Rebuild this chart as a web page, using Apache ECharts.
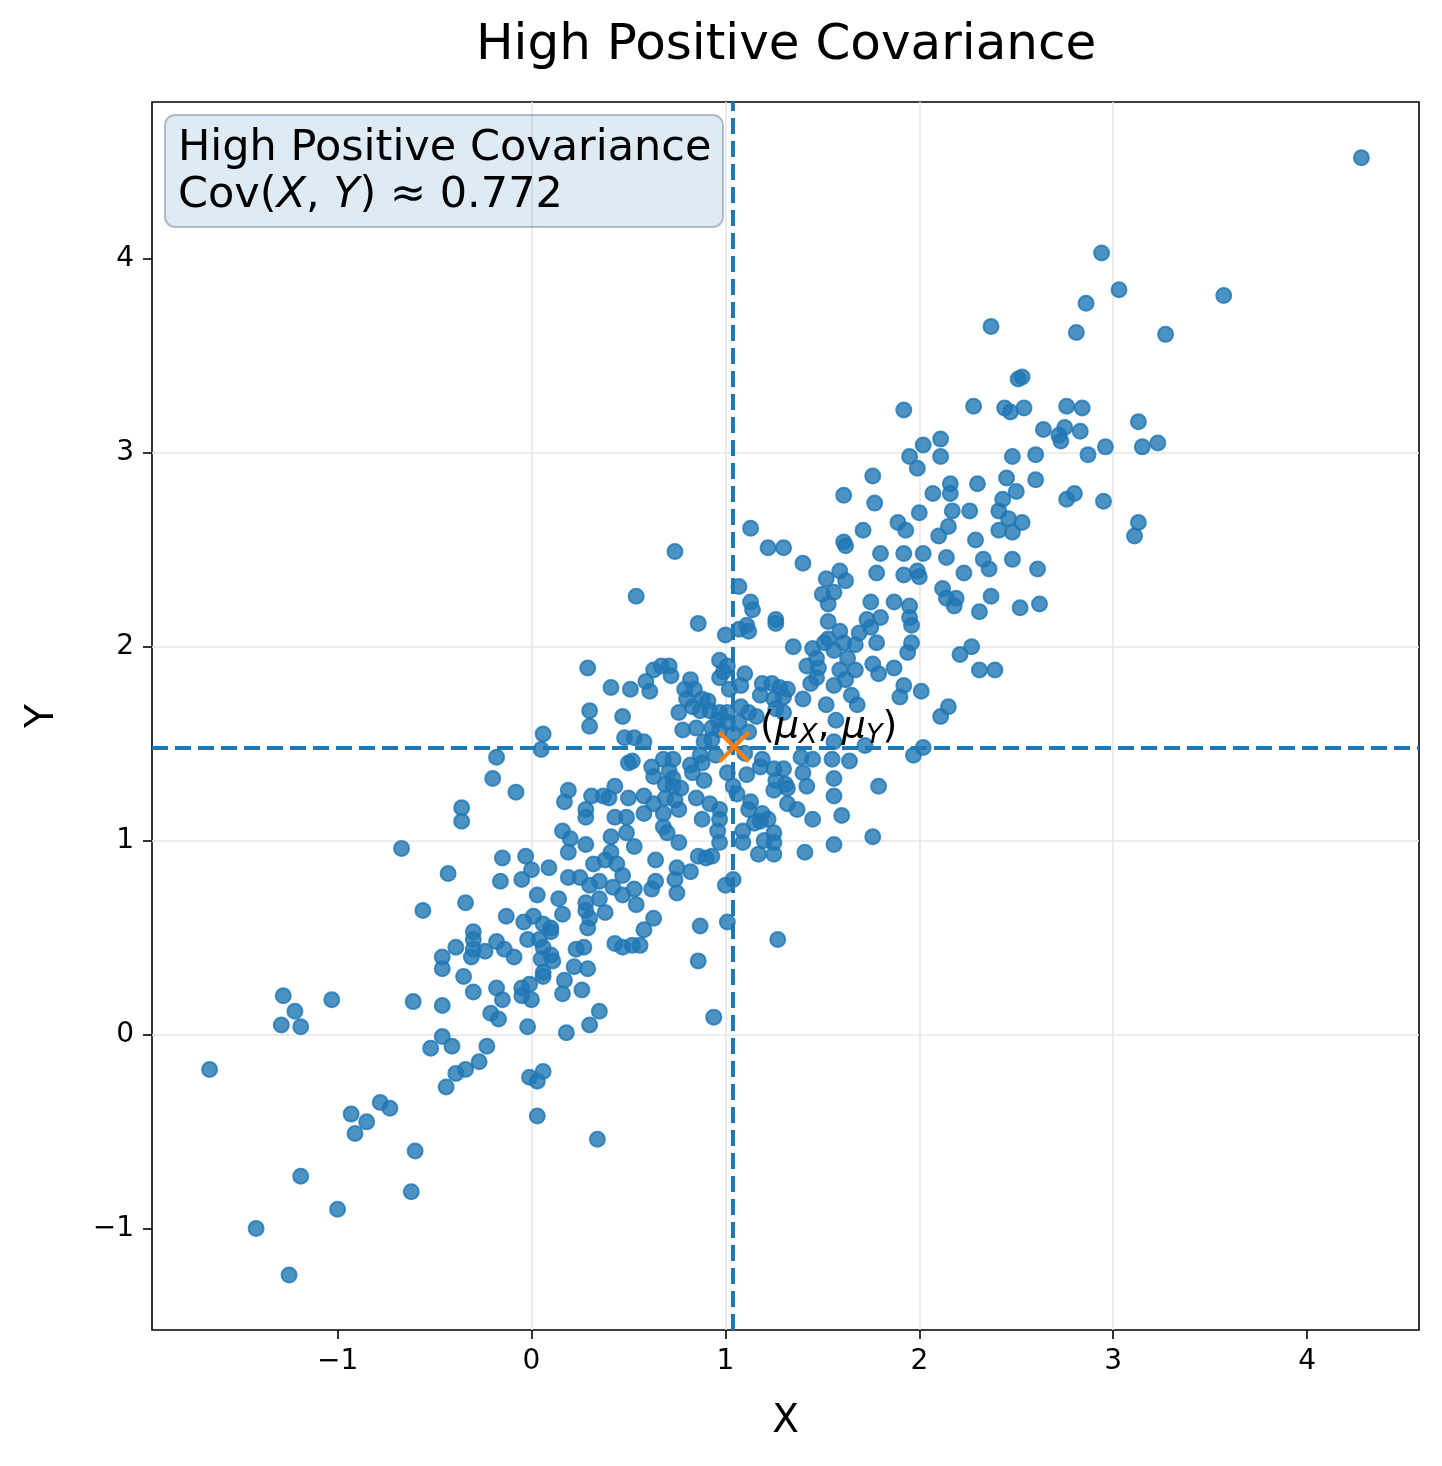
<!DOCTYPE html>
<html>
<head>
<meta charset="utf-8">
<title>High Positive Covariance</title>
<style>
  * { margin: 0; padding: 0; }
  body { background: #ffffff; }
  #chart { width: 1442px; height: 1466px; }
</style>
</head>
<body>
<div id="chart"></div>
<script src="https://cdn.jsdelivr.net/npm/echarts@6/dist/echarts.min.js"></script>
<script>
// sample points (x, y)
var samples = [
  [-1.28,0.20],[-1.22,0.12],[-1.29,0.05],[-1.19,0.04],[-1.03,0.18],[-1.66,-0.18],[-0.61,0.17],[-0.46,0.15],
  [-0.46,0.40],[-0.46,0.34],[-0.35,0.30],[-0.30,0.22],[-0.46,-0.01],[-0.41,-0.06],[-0.52,-0.07],[-0.39,-0.20],
  [-0.34,-0.18],[-0.44,-0.27],[-0.78,-0.35],[-0.73,-0.38],[-0.93,-0.41],[-0.85,-0.45],[-0.91,-0.51],[-0.60,-0.60],
  [-1.19,-0.73],[-0.62,-0.81],[-1.00,-0.90],[-1.42,-1.00],[-1.25,-1.24],

  [-0.67,0.96],[-0.43,0.83],[-0.15,0.91],[-0.03,0.92],[0.00,0.85],[-0.05,0.80],[-0.16,0.79],[0.09,0.86],
  [0.19,0.94],[0.20,1.01],[0.28,0.98],[0.19,0.81],[0.25,0.81],[0.30,0.77],[0.32,0.88],[0.38,0.90],
  [0.41,0.94],[0.44,0.88],[0.47,0.82],[0.35,0.79],[0.42,0.76],[0.47,0.72],[0.03,0.72],[0.14,0.70],
  [0.16,0.62],[-0.34,0.68],[-0.56,0.64],[-0.13,0.61],[-0.04,0.58],[0.01,0.61],[0.06,0.57],[0.10,0.55],
  [0.10,0.53],[0.28,0.68],[0.35,0.70],[0.38,0.63],[0.28,0.64],[0.30,0.60],[0.29,0.55],[-0.30,0.53],
  [-0.30,0.49],[-0.39,0.45],[-0.30,0.44],[-0.31,0.40],[-0.24,0.43],[-0.18,0.48],[-0.14,0.44],[-0.09,0.40],
  [-0.02,0.49],[0.04,0.49],[0.06,0.45],[0.05,0.39],[0.10,0.41],[0.11,0.38],[0.06,0.32],[0.06,0.30],
  [0.23,0.44],[0.27,0.45],[0.22,0.35],[0.29,0.34],[0.43,0.47],[0.47,0.45],[-0.18,0.24],[-0.15,0.18],
  [-0.05,0.24],[-0.05,0.20],[-0.01,0.26],[0.00,0.18],[0.17,0.28],[0.16,0.21],[0.26,0.23],[-0.21,0.11],
  [-0.17,0.08],[-0.02,0.04],[0.35,0.12],[0.30,0.05],[0.18,0.01],[-0.23,-0.06],[-0.27,-0.14],[-0.01,-0.22],
  [0.06,-0.19],[0.03,-0.24],[0.03,-0.42],[0.34,-0.54],

  [0.53,0.97],[0.64,0.90],[0.76,0.99],[0.53,0.75],[0.54,0.67],[0.62,0.75],[0.64,0.79],[0.75,0.86],
  [0.74,0.80],[0.75,0.73],[0.82,0.84],[0.86,0.92],[0.90,0.91],[0.93,0.92],[0.97,0.99],[1.00,0.77],
  [1.04,0.80],[0.63,0.60],[0.58,0.54],[0.87,0.56],[1.01,0.58],[0.52,0.46],[0.56,0.46],[0.86,0.38],
  [1.27,0.49],[0.94,0.09],[1.09,0.99],[1.17,0.93],[1.25,0.93],[1.25,0.99],[1.41,0.94],[1.56,0.98],
  [1.76,1.02],

  [0.29,1.89],[0.41,1.79],[0.51,1.78],[0.30,1.67],[0.30,1.59],[0.47,1.64],[0.48,1.53],[0.06,1.55],
  [0.05,1.47],[-0.18,1.43],[-0.20,1.32],[-0.08,1.25],[-0.36,1.17],[-0.36,1.10],[0.19,1.26],[0.17,1.20],
  [0.31,1.23],[0.37,1.23],[0.40,1.22],[0.43,1.28],[0.50,1.22],[0.28,1.16],[0.28,1.12],[0.43,1.12],
  [0.49,1.12],[0.50,1.40],[0.16,1.05],[0.41,1.02],[0.49,1.04],

  [1.35,2.00],[1.45,1.99],[1.51,2.02],[1.56,1.98],[1.47,1.94],[1.42,1.90],[1.48,1.89],[0.97,1.93],
  [1.01,1.90],[0.63,1.88],[0.67,1.90],[0.71,1.90],[0.72,1.85],[0.59,1.82],[0.61,1.77],[0.82,1.83],
  [0.79,1.78],[0.84,1.78],[0.80,1.73],[0.88,1.73],[0.91,1.72],[0.97,1.84],[0.99,1.87],[1.10,1.86],
  [1.08,1.80],[1.02,1.78],[1.19,1.81],[1.24,1.81],[1.28,1.79],[1.32,1.78],[1.18,1.75],[1.25,1.73],
  [1.30,1.74],[1.40,1.73],[1.44,1.81],[1.47,1.84],[1.56,1.80],[1.52,1.70],[0.83,1.69],[0.87,1.67],
  [0.76,1.66],[0.92,1.67],[0.97,1.66],[1.01,1.66],[1.08,1.69],[1.12,1.66],[1.16,1.64],[1.26,1.68],
  [1.30,1.66],[0.96,1.62],[1.01,1.61],[1.07,1.61],[0.78,1.57],[0.85,1.58],[0.93,1.58],[0.97,1.57],
  [1.04,1.55],[1.12,1.56],[0.53,1.53],[0.58,1.51],[0.89,1.51],[0.93,1.52],[1.57,1.62],[1.39,1.43],
  [1.45,1.42],[1.55,1.42],[1.40,1.35],[1.56,1.32],[0.52,1.41],[0.62,1.38],[0.63,1.33],[0.68,1.42],
  [0.73,1.42],[0.71,1.36],[0.82,1.39],[0.87,1.44],[0.88,1.40],[0.95,1.44],[0.83,1.35],[0.73,1.32],
  [0.89,1.31],[1.01,1.35],[1.11,1.34],[1.19,1.42],[1.18,1.38],[1.25,1.37],[1.30,1.37],[1.26,1.31],
  [1.31,1.29],[0.69,1.29],[0.73,1.28],[0.77,1.27],[1.04,1.28],[1.06,1.24],[1.25,1.26],[1.32,1.27],
  [1.42,1.28],[1.56,1.23],[0.58,1.23],[0.63,1.19],[0.69,1.22],[0.74,1.21],[0.76,1.16],[0.85,1.22],
  [0.92,1.19],[0.97,1.16],[1.13,1.20],[1.12,1.16],[1.19,1.14],[1.18,1.10],[1.22,1.11],[1.32,1.19],
  [1.37,1.16],[1.45,1.11],[0.58,1.14],[0.68,1.14],[0.68,1.07],[0.70,1.04],[0.88,1.11],[0.97,1.11],
  [0.96,1.05],[1.09,1.05],[1.15,1.09],[1.20,1.00],[1.25,1.04],[1.10,1.45],

  [1.75,2.23],[1.87,2.23],[1.95,2.21],[1.95,2.15],[1.96,2.11],[2.14,2.25],[2.18,2.21],[2.31,2.18],
  [2.52,2.20],[2.62,2.22],[2.37,2.26],[1.61,2.02],[1.67,2.01],[1.75,2.10],[1.78,2.02],[1.96,2.02],
  [1.94,1.97],[2.27,2.00],[2.21,1.96],[1.63,1.94],[1.59,1.88],[1.67,1.88],[1.62,1.83],[1.76,1.91],
  [1.79,1.86],[1.87,1.89],[2.31,1.88],[2.39,1.88],[1.92,1.80],[1.90,1.74],[2.01,1.77],[1.65,1.75],
  [1.68,1.70],[2.15,1.69],[2.11,1.64],[1.56,1.51],[1.72,1.49],[2.02,1.48],[1.97,1.44],[1.64,1.41],
  [1.79,1.28],[1.60,1.13],

  [0.74,2.49],[0.54,2.26],[0.86,2.12],[1.00,2.06],[1.07,2.31],[1.13,2.61],[1.22,2.51],[1.30,2.51],
  [1.40,2.43],[1.13,2.23],[1.14,2.19],[1.11,2.11],[1.12,2.08],[1.07,2.09],[1.26,2.14],[1.26,2.12],
  [1.52,2.35],[1.59,2.39],[1.62,2.34],[1.50,2.27],[1.56,2.28],[1.53,2.22],[1.53,2.13],[1.59,2.08],
  [1.53,2.04],[1.69,2.07],[1.73,2.14],[1.61,2.54],[1.62,2.52],[1.71,2.60],[1.61,2.78],

  [1.92,3.22],[2.28,3.24],[2.44,3.23],[2.47,3.21],[2.54,3.23],[2.51,3.38],[2.53,3.39],[2.76,3.24],
  [2.84,3.23],[2.64,3.12],[2.75,3.13],[2.72,3.09],[2.73,3.06],[2.83,3.11],[2.96,3.03],[2.87,2.99],
  [2.11,3.07],[2.02,3.04],[1.95,2.98],[2.11,2.98],[1.99,2.92],[2.48,2.98],[2.60,2.99],[1.76,2.88],
  [2.16,2.84],[2.30,2.84],[2.45,2.87],[2.60,2.86],[2.07,2.79],[2.16,2.79],[2.50,2.80],[2.43,2.76],
  [2.76,2.76],[2.80,2.79],[2.95,2.75],[1.77,2.74],[2.00,2.69],[2.17,2.70],[2.26,2.70],[2.41,2.70],
  [2.46,2.66],[2.53,2.64],[2.41,2.60],[2.48,2.59],[1.89,2.64],[1.93,2.60],[2.15,2.62],[2.10,2.57],
  [2.29,2.55],[1.80,2.48],[1.92,2.48],[2.02,2.48],[2.14,2.46],[2.33,2.45],[2.36,2.40],[2.48,2.45],
  [2.61,2.40],[1.78,2.38],[1.92,2.37],[1.99,2.39],[2.00,2.36],[2.23,2.38],[2.12,2.30],[2.19,2.25],
  [1.80,2.15],

  [4.28,4.52],[2.94,4.03],[3.03,3.84],[3.57,3.81],[2.86,3.77],[2.37,3.65],[2.81,3.62],[3.27,3.61],
  [3.13,3.16],[3.15,3.03],[3.23,3.05],[3.13,2.64],[3.11,2.57]
];

var meanXY = [1.045, 1.483];
var covValue = 0.772;
var xTicks = [-1, 0, 1, 2, 3, 4];
var yTicks = [-1, 0, 1, 2, 3, 4];
var xRange = [-1.957, 4.577];
var yRange = [-1.523, 4.808];

var FONT = 'DejaVu Sans';
var BLUE = '#1f77b4';
var ORANGE = '#ff7f0e';

function tickText(v) {
  return String(v).replace('-', '\u2212');
}

var chart = echarts.init(document.getElementById('chart'), null, { renderer: 'canvas' });

var option = {
  animation: false,
  backgroundColor: '#ffffff',
  title: [
    {
      text: 'High Positive Covariance',
      left: 476,
      top: 21,
      padding: 0,
      textStyle: { fontFamily: FONT, fontSize: 50, fontWeight: 'normal', color: '#000' }
    },
    {
      text: '{n|High Positive Covariance}\n{n|Cov(}{i|X}{n|, }{i|Y}{n|) \u2248 ' + covValue.toFixed(3) + '}',
      left: 165,
      top: 113,
      padding: [12, 12, 10, 13],
      backgroundColor: 'rgba(31,119,180,0.15)',
      borderColor: 'rgba(120,140,160,0.55)',
      borderWidth: 2,
      borderRadius: 10,
      textStyle: {
        fontWeight: 'normal',
        rich: {
          n: { fontFamily: FONT, fontSize: 43, fontWeight: 'normal', color: '#000', lineHeight: 47 },
          i: { fontFamily: FONT, fontSize: 43, fontWeight: 'normal', fontStyle: 'italic', color: '#000', lineHeight: 47 }
        }
      }
    }
  ],
  grid: {
    left: 152, right: 23, top: 102, bottom: 136,
    show: true, borderColor: '#000', borderWidth: 1.6, backgroundColor: 'transparent'
  },
  xAxis: {
    type: 'value',
    min: xRange[0], max: xRange[1],
    name: 'X', nameLocation: 'middle', nameGap: 72,
    nameTextStyle: { fontFamily: FONT, fontSize: 39, color: '#000' },
    axisLine: { show: false, onZero: false },
    axisTick: { show: true, length: 9, customValues: xTicks, lineStyle: { color: '#000', width: 1.6 } },
    axisLabel: { customValues: xTicks, fontFamily: FONT, fontSize: 28, color: '#000', margin: 18, formatter: tickText },
    splitLine: { show: true, showMinLine: false, showMaxLine: false, lineStyle: { color: '#e6e6e6', width: 1.6 } }
  },
  yAxis: {
    type: 'value',
    min: yRange[0], max: yRange[1],
    name: 'Y', nameLocation: 'middle', nameGap: 90, nameRotate: 90,
    nameTextStyle: { fontFamily: FONT, fontSize: 39, color: '#000' },
    axisLine: { show: false, onZero: false },
    axisTick: { show: true, length: 9, customValues: yTicks, lineStyle: { color: '#000', width: 1.6 } },
    axisLabel: { customValues: yTicks, fontFamily: FONT, fontSize: 28, color: '#000', margin: 18, formatter: tickText },
    splitLine: { show: true, showMinLine: false, showMaxLine: false, lineStyle: { color: '#e6e6e6', width: 1.6 } }
  },
  series: [
    {
      name: 'samples',
      type: 'scatter',
      data: samples,
      symbol: 'circle',
      symbolSize: 15,
      itemStyle: { color: 'rgba(31,119,180,0.8)', borderColor: 'rgba(31,119,180,0.8)', borderWidth: 2, opacity: 1 },
      z: 2,
      silent: true
    },
    {
      name: 'mean',
      type: 'scatter',
      data: [meanXY],
      symbol: 'path://M0,9 L9,0 L50,41 L91,0 L100,9 L59,50 L100,91 L91,100 L50,59 L9,100 L0,91 L41,50 Z',
      symbolSize: 32,
      itemStyle: { color: ORANGE, opacity: 1 },
      z: 6,
      silent: true,
      label: {
        show: true,
        position: 'right',
        distance: 8,
        offset: [2, -20],
        formatter: '{p|(}{m|\u03bc}{s|X}{p|, }{m|\u03bc}{s|Y}{p|)}',
        rich: {
          p: { fontFamily: FONT, fontSize: 38, color: '#000' },
          m: { fontFamily: FONT, fontSize: 38, fontStyle: 'italic', color: '#000' },
          s: { fontFamily: FONT, fontSize: 27, fontStyle: 'italic', color: '#000', padding: [18, 0, 0, 0] }
        }
      },
      markLine: {
        silent: true,
        symbol: ['none', 'none'],
        z: 5,
        label: { show: false },
        lineStyle: { color: BLUE, width: 4, type: [16, 7], opacity: 1 },
        data: [{ xAxis: meanXY[0] }, { yAxis: meanXY[1] }]
      }
    }
  ]
};

chart.setOption(option);
</script>
</body>
</html>
